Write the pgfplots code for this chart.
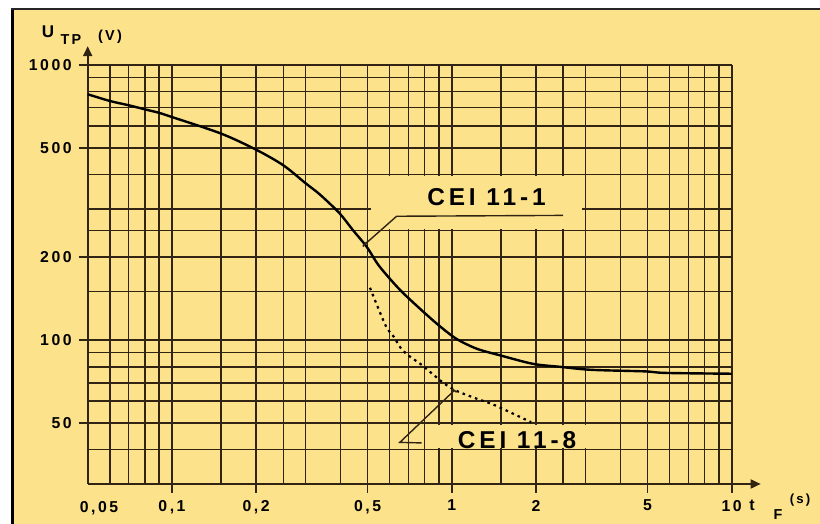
\documentclass[border=0pt]{standalone}
\usepackage{fontspec}
\setmainfont{Liberation Sans}
\newfontfamily\lab[LetterSpace=16]{Liberation Sans}
\usepackage{pgfplots}
\pgfplotsset{compat=1.18}
\usetikzlibrary{arrows.meta}
\definecolor{bg}{RGB}{253,226,140}
\definecolor{gr}{RGB}{50,36,18}
\begin{document}
\begin{tikzpicture}[x=1pt,y=1pt]
\path[use as bounding box, fill=white] (0,0) rectangle (410,262);
\fill[bg] (6.25,0) rectangle (410,256.8);
\draw[black, line width=1.5pt] (6.25,0) -- (6.25,257.3);
\draw[black!85, line width=1pt] (5.5,257.3) -- (410,257.3);
\begin{axis}[at={(43.85pt,20pt)}, anchor=south west, scale only axis,
  width=322pt, height=209.5pt,
  xmode=log, ymode=log, xmin=0.05, xmax=10, ymin=30, ymax=1000,
  axis line style={draw=none}, clip=false,
  xtick={0.1,0.2,0.5,1,2,5,10},
  xticklabels={{0,1},{0,2},{0,5},1,2,5,10},
  ytick={50,100,200,500,1000},
  yticklabels={50,100,200,500,1000},
  minor xtick={0.05,0.06,0.07,0.08,0.09,0.15,0.25,0.3,0.4,0.6,0.7,0.8,0.9,1.5,2.5,3,4,6,7,8,9},
  minor ytick={40,60,70,80,90,150,250,300,400,600,700,800,900},
  grid=both,
  major grid style={gr, line width=0.85pt},
  minor grid style={gr, line width=0.75pt},
  tick align=outside, major tick length=4.5pt, minor tick length=0pt,
  xtick pos=bottom, ytick pos=left,
  tick style={gr, line width=0.85pt},
  /pgf/number format/assume math mode=true,
  ticklabel style={font=\lab\bfseries\fontsize{7.9}{8}\selectfont},
]
\fill[bg] (axis cs:0.515,254) rectangle (axis cs:2.93,394);
\fill[bg] (axis cs:0.815,40.6) rectangle (axis cs:3.93,49.3);
\draw[gr, line width=0.9pt, -{Triangle[length=5pt,width=4.5pt]}] (rel axis cs:0,0) -- (rel axis cs:0,1.045);
\draw[gr, line width=0.9pt, -{Triangle[length=5pt,width=4.5pt]}] (rel axis cs:0,0) -- (rel axis cs:1.045,0);
\addplot[black, line width=1.2pt, smooth] coordinates {
(0.05,783) (0.06,740) (0.07,714) (0.08,690) (0.09,670) (0.1,647) (0.15,563)
(0.2,492) (0.25,432) (0.3,372) (0.337,339) (0.396,290) (0.442,252)
(0.497,218) (0.55,186) (0.65,153) (0.77,130) (0.9,113) (1.04,101)
(1.23,93) (1.49,88) (1.95,82) (2.43,80) (3.15,78) (4.9,77) (5.8,76) (10,75.5)};
\addplot[black, line width=1.1pt, dash pattern=on 1.3pt off 2pt, smooth] coordinates {
(0.51,155) (0.58,113) (0.62,103) (0.66,93) (0.71,87) (0.78,81.3) (0.93,70.1)
(1.04,65.4) (1.23,61.2) (1.43,57.9) (1.92,50.3)};
\draw[gr, line width=0.7pt] (axis cs:0.489,223) -- (axis cs:0.635,282) -- (axis cs:2.5,284);
\draw[gr, line width=0.8pt] ([shift={(-1pt,-1.1pt)}]axis cs:0.489,223) -- ([shift={(1pt,1.1pt)}]axis cs:0.489,223);
\draw[gr, line width=0.7pt] (axis cs:1.02,65.6) -- (axis cs:0.652,42.5) -- (axis cs:0.78,42.3);
\draw[gr, line width=0.8pt] ([shift={(-1.2pt,0.8pt)}]axis cs:1.02,65.6) -- ([shift={(1.2pt,-0.8pt)}]axis cs:1.02,65.6);
\node[font=\lab\bfseries\fontsize{12.2}{12}\selectfont] at (axis cs:1.33,330) {CEI 11-1};
\node[font=\lab\bfseries\fontsize{12.2}{12}\selectfont] at (axis cs:1.71,43.3) {CEI 11-8};
\end{axis}
\node[font=\lab\bfseries\fontsize{7.9}{8}\selectfont] at (49.5,8) {0,05};
\node[font=\lab\bfseries\fontsize{8.5}{8}\selectfont] at (24,246.3) {U};
\node[font=\lab\bfseries\fontsize{7.2}{7}\selectfont] at (35.5,242.3) {TP};
\node[font=\lab\bfseries\fontsize{7.2}{7}\selectfont] at (55,243.8) {(V)};
\node[font=\lab\bfseries\fontsize{8}{8}\selectfont] at (376,9.5) {t};
\node[font=\lab\bfseries\fontsize{7.2}{7}\selectfont] at (389,4.5) {F};
\node[font=\lab\bfseries\fontsize{6.6}{7}\selectfont] at (400,12) {(s)};
\end{tikzpicture}
\end{document}
